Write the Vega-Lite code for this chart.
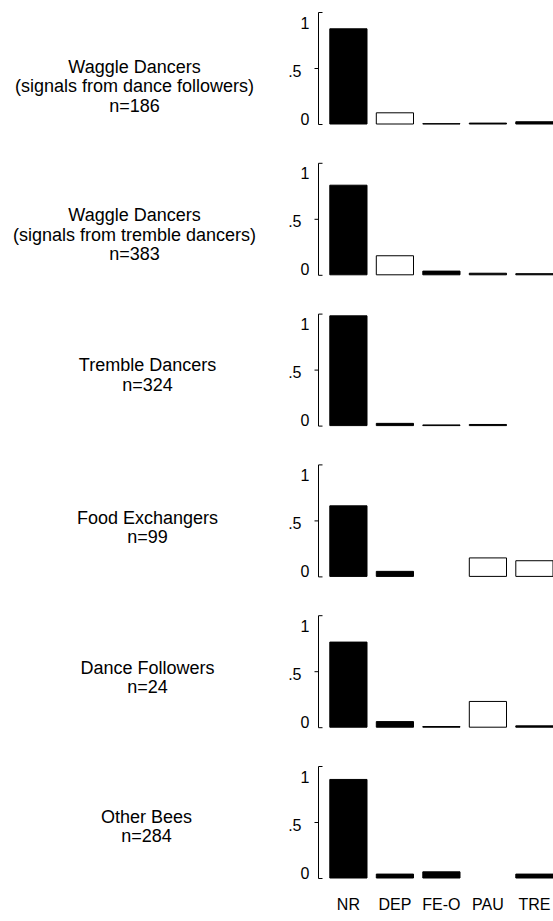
{
  "$schema": "https://vega.github.io/schema/vega-lite/v6.json",
  "autosize": {"type": "pad"},
  "padding": {"left": 12, "top": 11, "right": 0, "bottom": 5},
  "background": "white",
  "bounds": "flush",
  "spacing": 38.8,
  "data": {"values": [
    {"group": "WD-DF", "cat": "NR", "value": 0.85, "shade": "filled"},
    {"group": "WD-DF", "cat": "DEP", "value": 0.10, "shade": "open"},
    {"group": "WD-DF", "cat": "FE-O", "value": 0.003, "shade": "filled"},
    {"group": "WD-DF", "cat": "PAU", "value": 0.008, "shade": "filled"},
    {"group": "WD-DF", "cat": "TRE", "value": 0.02, "shade": "filled"},
    {"group": "WD-TD", "cat": "NR", "value": 0.80, "shade": "filled"},
    {"group": "WD-TD", "cat": "DEP", "value": 0.17, "shade": "open"},
    {"group": "WD-TD", "cat": "FE-O", "value": 0.033, "shade": "filled"},
    {"group": "WD-TD", "cat": "PAU", "value": 0.014, "shade": "filled"},
    {"group": "WD-TD", "cat": "TRE", "value": 0.01, "shade": "filled"},
    {"group": "TD", "cat": "NR", "value": 0.98, "shade": "filled"},
    {"group": "TD", "cat": "DEP", "value": 0.02, "shade": "filled"},
    {"group": "TD", "cat": "FE-O", "value": 0.006, "shade": "filled"},
    {"group": "TD", "cat": "PAU", "value": 0.01, "shade": "filled"},
    {"group": "FE", "cat": "NR", "value": 0.63, "shade": "filled"},
    {"group": "FE", "cat": "DEP", "value": 0.045, "shade": "filled"},
    {"group": "FE", "cat": "PAU", "value": 0.165, "shade": "open"},
    {"group": "FE", "cat": "TRE", "value": 0.14, "shade": "open"},
    {"group": "DF", "cat": "NR", "value": 0.76, "shade": "filled"},
    {"group": "DF", "cat": "DEP", "value": 0.05, "shade": "filled"},
    {"group": "DF", "cat": "FE-O", "value": 0.006, "shade": "filled"},
    {"group": "DF", "cat": "PAU", "value": 0.23, "shade": "open"},
    {"group": "DF", "cat": "TRE", "value": 0.012, "shade": "filled"},
    {"group": "OB", "cat": "NR", "value": 0.88, "shade": "filled"},
    {"group": "OB", "cat": "DEP", "value": 0.035, "shade": "filled"},
    {"group": "OB", "cat": "FE-O", "value": 0.055, "shade": "filled"},
    {"group": "OB", "cat": "TRE", "value": 0.035, "shade": "filled"}
  ]},
  "config": {
    "font": "Liberation Sans",
    "view": {"stroke": null},
    "axis": {
      "grid": false,
      "labelFont": "Liberation Sans",
      "labelFontSize": 16,
      "labelColor": "#000",
      "domainColor": "#000",
      "tickColor": "#000",
      "titleColor": "#000",
      "titleFont": "Liberation Sans",
      "titleFontWeight": "normal",
      "titleFontSize": 18
    },
    "axisY": {
      "values": [0, 0.25, 0.5, 0.75, 1],
      "labelExpr": "datum.value == 0 ? '0' : datum.value == 1 ? '1' : datum.value == 0.5 ? '.5' : ''",
      "labelFlush": true,
      "labelOffset": 3,
      "labelPadding": 13,
      "tickSize": {"condition": {"test": "datum.value == 0 || datum.value == 1", "value": -4}, "value": 4},
      "tickWidth": 1,
      "domainWidth": 1,
      "titleAngle": 0,
      "titleAlign": "center",
      "titleBaseline": "middle",
      "titleLineHeight": 19.5
    },
    "bar": {"stroke": "#000", "strokeWidth": 1}
  },
  "vconcat": [
    {
      "width": 235, "height": 112,
      "transform": [{"filter": "datum.group == 'WD-DF'"}],
      "mark": "bar",
      "encoding": {
        "x": {"field": "cat", "type": "nominal", "scale": {"domain": ["NR", "DEP", "FE-O", "PAU", "TRE"], "paddingInner": 0.2, "paddingOuter": 0.127, "align": 1}, "axis": null},
        "y": {"field": "value", "type": "quantitative", "scale": {"domain": [0, 1], "nice": false}, "axis": {"title": ["Waggle Dancers", "(signals from dance followers)", "n=186"], "titleX": -184, "titleY": 55}},
        "fill": {"field": "shade", "type": "nominal", "scale": {"domain": ["filled", "open"], "range": ["#000000", "#ffffff"]}, "legend": null}
      }
    },
    {
      "width": 235, "height": 112,
      "transform": [{"filter": "datum.group == 'WD-TD'"}],
      "mark": "bar",
      "encoding": {
        "x": {"field": "cat", "type": "nominal", "scale": {"domain": ["NR", "DEP", "FE-O", "PAU", "TRE"], "paddingInner": 0.2, "paddingOuter": 0.127, "align": 1}, "axis": null},
        "y": {"field": "value", "type": "quantitative", "scale": {"domain": [0, 1], "nice": false}, "axis": {"title": ["Waggle Dancers", "(signals from tremble dancers)", "n=383"], "titleX": -184, "titleY": 53}},
        "fill": {"field": "shade", "type": "nominal", "scale": {"domain": ["filled", "open"], "range": ["#000000", "#ffffff"]}, "legend": null}
      }
    },
    {
      "width": 235, "height": 112,
      "transform": [{"filter": "datum.group == 'TD'"}],
      "mark": "bar",
      "encoding": {
        "x": {"field": "cat", "type": "nominal", "scale": {"domain": ["NR", "DEP", "FE-O", "PAU", "TRE"], "paddingInner": 0.2, "paddingOuter": 0.127, "align": 1}, "axis": null},
        "y": {"field": "value", "type": "quantitative", "scale": {"domain": [0, 1], "nice": false}, "axis": {"title": ["Tremble Dancers", "n=324"], "titleX": -171, "titleY": 52}},
        "fill": {"field": "shade", "type": "nominal", "scale": {"domain": ["filled", "open"], "range": ["#000000", "#ffffff"]}, "legend": null}
      }
    },
    {
      "width": 235, "height": 112,
      "transform": [{"filter": "datum.group == 'FE'"}],
      "mark": "bar",
      "encoding": {
        "x": {"field": "cat", "type": "nominal", "scale": {"domain": ["NR", "DEP", "FE-O", "PAU", "TRE"], "paddingInner": 0.2, "paddingOuter": 0.127, "align": 1}, "axis": null},
        "y": {"field": "value", "type": "quantitative", "scale": {"domain": [0, 1], "nice": false}, "axis": {"title": ["Food Exchangers", "n=99"], "titleX": -171, "titleY": 54}},
        "fill": {"field": "shade", "type": "nominal", "scale": {"domain": ["filled", "open"], "range": ["#000000", "#ffffff"]}, "legend": null}
      }
    },
    {
      "width": 235, "height": 112,
      "transform": [{"filter": "datum.group == 'DF'"}],
      "mark": "bar",
      "encoding": {
        "x": {"field": "cat", "type": "nominal", "scale": {"domain": ["NR", "DEP", "FE-O", "PAU", "TRE"], "paddingInner": 0.2, "paddingOuter": 0.127, "align": 1}, "axis": null},
        "y": {"field": "value", "type": "quantitative", "scale": {"domain": [0, 1], "nice": false}, "axis": {"title": ["Dance Followers", "n=24"], "titleX": -171, "titleY": 53}},
        "fill": {"field": "shade", "type": "nominal", "scale": {"domain": ["filled", "open"], "range": ["#000000", "#ffffff"]}, "legend": null}
      }
    },
    {
      "width": 235, "height": 112,
      "transform": [{"filter": "datum.group == 'OB'"}],
      "mark": "bar",
      "encoding": {
        "x": {"field": "cat", "type": "nominal", "scale": {"domain": ["NR", "DEP", "FE-O", "PAU", "TRE"], "paddingInner": 0.2, "paddingOuter": 0.127, "align": 1}, "axis": {"title": null, "labelAngle": 0, "ticks": false, "domain": false, "labelPadding": 18, "labelFontSize": 16}},
        "y": {"field": "value", "type": "quantitative", "scale": {"domain": [0, 1], "nice": false}, "axis": {"title": ["Other Bees", "n=284"], "titleX": -172, "titleY": 51}},
        "fill": {"field": "shade", "type": "nominal", "scale": {"domain": ["filled", "open"], "range": ["#000000", "#ffffff"]}, "legend": null}
      }
    }
  ]
}
